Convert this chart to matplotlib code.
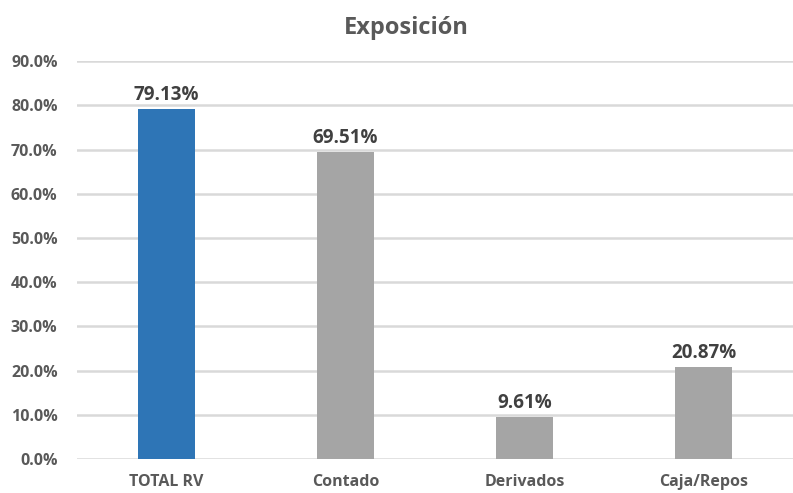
import matplotlib
matplotlib.use("Agg")
from matplotlib import pyplot as plt
from matplotlib.ticker import FuncFormatter

categories = ["TOTAL RV", "Contado", "Derivados", "Caja/Repos"]
values = [79.13, 69.51, 9.61, 20.87]
bar_colors = ["#2E75B6", "#A5A5A5", "#A5A5A5", "#A5A5A5"]
yticks = [0, 10, 20, 30, 40, 50, 60, 70, 80, 90]

text_color = "#595959"
plt.rcParams['font.family'] = ['Open Sans', 'DejaVu Sans']

fig = plt.figure(figsize=(7.93, 4.93), dpi=100, facecolor="white")
ax = fig.add_axes([0.0971, 0.069, 0.9029, 0.807])

x = range(len(categories))
bars = ax.bar(x, values, width=0.313, color=bar_colors, zorder=3)

for rect, v in zip(bars, values):
    ax.text(rect.get_x() + rect.get_width() / 2, v + 0.9, f"{v:.2f}%",
            ha="center", va="bottom", fontsize=13.5, fontweight="bold",
            color="#404040")

ax.set_xlim(-0.5, len(categories) - 0.5)
ax.set_ylim(0, 90)
ax.set_yticks(yticks)
ax.yaxis.set_major_formatter(FuncFormatter(lambda v, _: f"{v:.1f}%"))
ax.set_xticks(list(x))
ax.set_xticklabels(categories)
ax.grid(axis="y", color="#D9D9D9", linewidth=1.8, zorder=0)
for s in ax.spines.values():
    s.set_visible(False)
ax.tick_params(length=0, labelsize=11.5, labelcolor=text_color)
ax.tick_params(axis="y", pad=14)
ax.tick_params(axis="x", pad=11)
for lbl in ax.get_xticklabels() + ax.get_yticklabels():
    lbl.set_fontweight("bold")

fig.text(0.513, 0.943, "Exposición", ha="center", va="center",
         fontsize=17, fontweight="bold", color=text_color)

fig.savefig("out.png", dpi=100)
